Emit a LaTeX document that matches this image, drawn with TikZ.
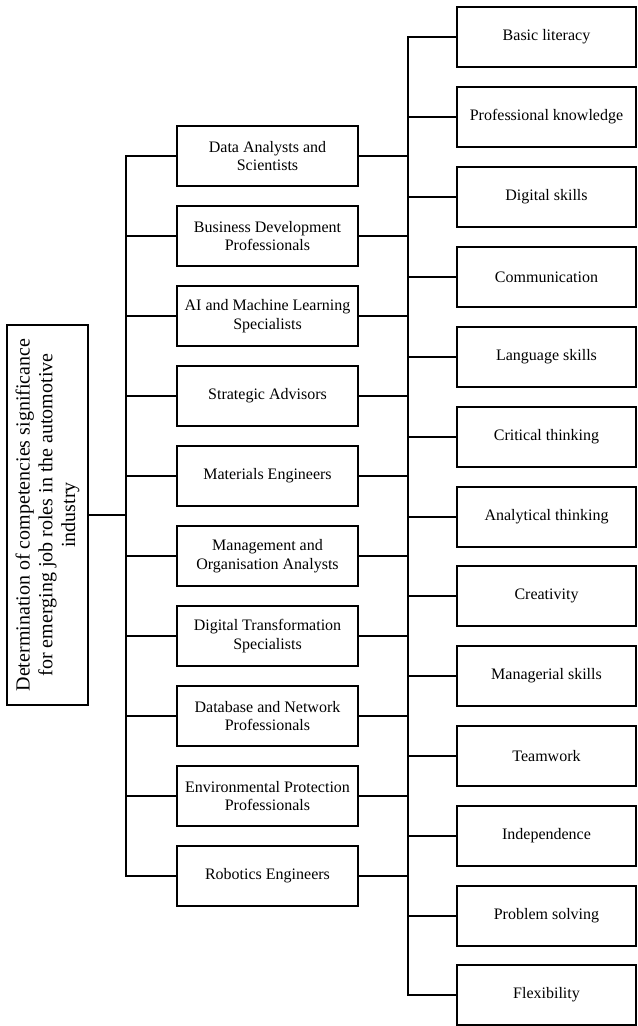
\documentclass[tikz,border=0pt]{standalone}
\usepackage{fontspec}
\setmainfont{Liberation Serif}
\tikzset{
    rolebox/.style={draw, line width=1.3pt, align=center, minimum width=135.75pt, minimum height=45pt,
        font=\fontsize{12}{14}\selectfont},
    skillbox/.style={draw, line width=1.3pt, align=center, minimum width=134.25pt, minimum height=45pt,
        font=\fontsize{12}{14}\selectfont},
    topicbox/.style={draw, line width=1.3pt, align=center, rotate=90, minimum width=285pt, minimum height=60.75pt,
        font=\fontsize{15}{17}\selectfont},
    link/.style={line width=1.3pt, line join=miter},
}

\begin{document}
\begin{tikzpicture}[x=0.75pt, y=-0.75pt]
\useasboundingbox (0,0) rectangle (637,1026);
% bus lines
\coordinate (busL) at (126,0);
\coordinate (busR) at (408,0);

\node[topicbox] (topic) at (47.5,515) {Determination of competencies significance\\for emerging job roles in the automotive\\industry};

\node[rolebox] (role1) at (267.5,156) {Data Analysts and\\Scientists};
\node[rolebox] (role2) at (267.5,236) {Business Development\\Professionals};
\node[rolebox] (role3) at (267.5,316) {AI and Machine Learning\\Specialists};
\node[rolebox] (role4) at (267.5,396) {Strategic Advisors};
\node[rolebox] (role5) at (267.5,476) {Materials Engineers};
\node[rolebox] (role6) at (267.5,556) {Management and\\Organisation Analysts};
\node[rolebox] (role7) at (267.5,636) {Digital Transformation\\Specialists};
\node[rolebox] (role8) at (267.5,716) {Database and Network\\Professionals};
\node[rolebox] (role9) at (267.5,796) {Environmental Protection\\Professionals};
\node[rolebox] (role10) at (267.5,876) {Robotics Engineers};

\node[skillbox] (skill1) at (546.5,37) {Basic literacy};
\node[skillbox] (skill2) at (546.5,117) {Professional knowledge};
\node[skillbox] (skill3) at (546.5,197) {Digital skills};
\node[skillbox] (skill4) at (546.5,277) {Communication};
\node[skillbox] (skill5) at (546.5,357) {Language skills};
\node[skillbox] (skill6) at (546.5,437) {Critical thinking};
\node[skillbox] (skill7) at (546.5,517) {Analytical thinking};
\node[skillbox] (skill8) at (546.5,596) {Creativity};
\node[skillbox] (skill9) at (546.5,676) {Managerial skills};
\node[skillbox] (skill10) at (546.5,756) {Teamwork};
\node[skillbox] (skill11) at (546.5,836) {Independence};
\node[skillbox] (skill12) at (546.5,916) {Problem solving};
\node[skillbox] (skill13) at (546.5,995) {Flexibility};

% topic to roles
\draw[link] (topic.south) -- (topic.south -| busL);
\draw[link] (role1.west) -- (role1.west -| busL) -- (role10.west -| busL) -- (role10.west);
\draw[link] (role2.west) -- (role2.west -| busL);
\draw[link] (role3.west) -- (role3.west -| busL);
\draw[link] (role4.west) -- (role4.west -| busL);
\draw[link] (role5.west) -- (role5.west -| busL);
\draw[link] (role6.west) -- (role6.west -| busL);
\draw[link] (role7.west) -- (role7.west -| busL);
\draw[link] (role8.west) -- (role8.west -| busL);
\draw[link] (role9.west) -- (role9.west -| busL);

% roles to skills
\draw[link] (role1.east) -- (role1.east -| busR);
\draw[link] (role2.east) -- (role2.east -| busR);
\draw[link] (role3.east) -- (role3.east -| busR);
\draw[link] (role4.east) -- (role4.east -| busR);
\draw[link] (role5.east) -- (role5.east -| busR);
\draw[link] (role6.east) -- (role6.east -| busR);
\draw[link] (role7.east) -- (role7.east -| busR);
\draw[link] (role8.east) -- (role8.east -| busR);
\draw[link] (role9.east) -- (role9.east -| busR);
\draw[link] (role10.east) -- (role10.east -| busR);
\draw[link] (skill1.west) -- (skill1.west -| busR) -- (skill13.west -| busR) -- (skill13.west);
\draw[link] (skill2.west) -- (skill2.west -| busR);
\draw[link] (skill3.west) -- (skill3.west -| busR);
\draw[link] (skill4.west) -- (skill4.west -| busR);
\draw[link] (skill5.west) -- (skill5.west -| busR);
\draw[link] (skill6.west) -- (skill6.west -| busR);
\draw[link] (skill7.west) -- (skill7.west -| busR);
\draw[link] (skill8.west) -- (skill8.west -| busR);
\draw[link] (skill9.west) -- (skill9.west -| busR);
\draw[link] (skill10.west) -- (skill10.west -| busR);
\draw[link] (skill11.west) -- (skill11.west -| busR);
\draw[link] (skill12.west) -- (skill12.west -| busR);
\end{tikzpicture}
\end{document}
